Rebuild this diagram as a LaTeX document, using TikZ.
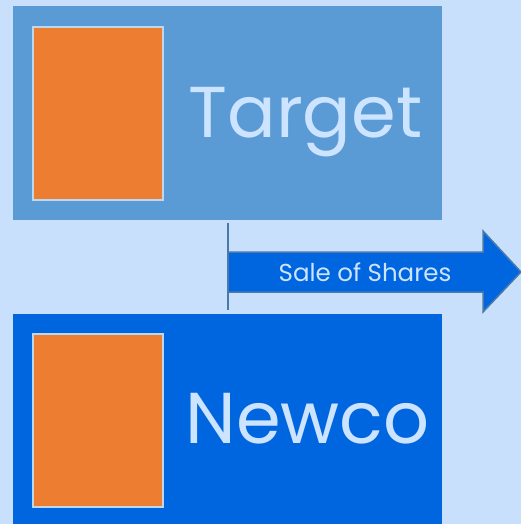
\documentclass[tikz,border=0pt]{standalone}
\usepackage{fontspec}
\setmainfont{Poppins}
\usetikzlibrary{positioning}

\definecolor{paleblue}{RGB}{200,224,252}
\definecolor{midblue}{RGB}{91,155,213}
\definecolor{deepblue}{RGB}{0,102,224}
\definecolor{edgeblue}{RGB}{74,122,170}
\definecolor{boxorange}{RGB}{237,125,49}
\definecolor{rimblue}{RGB}{189,215,238}
\definecolor{inkblue}{RGB}{204,228,255}

\tikzset{
    company/.style={
        inner sep=0pt,
        outer sep=0pt,
        minimum width=429.5pt,
        minimum height=213.5pt
    },
    logo/.style={
        draw=rimblue,
        fill=boxorange,
        line width=2pt,
        inner sep=0pt,
        minimum width=130pt,
        minimum height=173pt
    },
    bigname/.style={
        text=inkblue,
        anchor=base,
        font=\fontsize{72}{80}\selectfont
    }
}

\begin{document}
\begin{tikzpicture}[x=1pt,y=-1pt]

\useasboundingbox[fill=paleblue] (0,0) rectangle (521,524);

% the two companies
\node[company, fill=midblue] (target) at (227.25,113.25) {};
\node[company, fill=deepblue] (newco) at (227.25,420.25) {};

\node[logo] (targetlogo) at (98,113.5) {};
\node[logo] (newcologo) at (98,420.5) {};

\node[bigname] (targetname) at (305.5,137) {Target};
\node[bigname] (newconame) at (307.5,443) {Newco};

% share transfer
\coordinate (split top) at (227.5,223);
\coordinate (split bottom) at (227.5,310);
\draw[edgeblue, line width=2pt] (split top) -- (split bottom);

\draw[edgeblue, fill=deepblue, line width=1.5pt, line join=miter]
    (228,252) -- (483,252) -- (483,231) -- (521,272)
    -- (483,312) -- (483,292) -- (228,292) -- cycle;

\node[text=inkblue, font=\fontsize{24.5}{28}\selectfont] (sale) at (365,272) {Sale of Shares};

\end{tikzpicture}
\end{document}
